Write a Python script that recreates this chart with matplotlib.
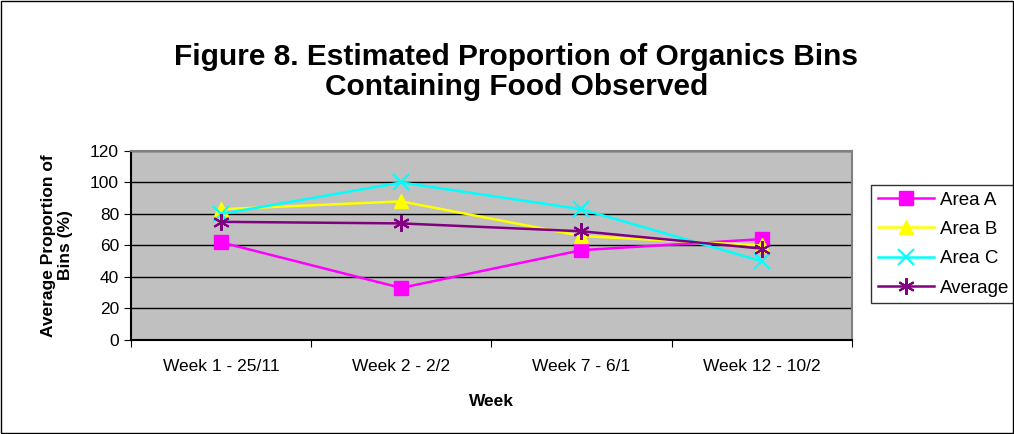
import matplotlib
matplotlib.use('Agg')
import matplotlib.pyplot as plt
from matplotlib.patches import Rectangle

weeks = ['Week 1 - 25/11', 'Week 2 - 2/2', 'Week 7 - 6/1', 'Week 12 - 10/2']
area_a = [62, 33, 57, 64]
area_b = [83, 88, 66, 60]
area_c = [80, 100, 83, 50]
average = [75, 74, 69, 58]

plt.rcParams['font.family'] = ['Liberation Sans', 'DejaVu Sans']

fig = plt.figure(figsize=(10.14, 4.34), dpi=100)
fig.patches.append(Rectangle((0.001, 0.002), 0.998, 0.996, transform=fig.transFigure,
                             fill=False, edgecolor='black', linewidth=1))
ax = fig.add_axes([0.129, 0.217, 0.711, 0.435])
ax.set_facecolor('#C0C0C0')

x = [0.5, 1.5, 2.5, 3.5]
ax.plot(x, area_a, color='#FF00FF', marker='s', markersize=10, linewidth=1.8, label='Area A')
ax.plot(x, area_b, color='#FFFF00', marker='^', markersize=10, linewidth=1.8, label='Area B')
ax.plot(x, area_c, color='#00FFFF', marker='x', markersize=11, markeredgewidth=1.5, linewidth=1.8, label='Area C')
ax.plot(x, average, color='#800080', marker=(6, 2, 0), markersize=12, markeredgewidth=1.5, linewidth=1.8, label='Average')

ax.set_xlim(0, 4)
ax.set_ylim(0, 120)
ax.set_yticks(range(0, 121, 20))
ax.set_xticks([0, 1, 2, 3, 4])
ax.set_xticklabels([])
ax.set_xticks(x, minor=True)
ax.set_xticklabels(weeks, minor=True)
ax.tick_params(axis='x', which='minor', length=0, pad=14, labelsize=12.5)
ax.tick_params(axis='x', which='major', length=5, direction='out')
ax.tick_params(axis='y', labelsize=12.5, length=5, direction='out')
ax.grid(axis='y', color='black', linewidth=1)
ax.set_axisbelow(True)
for s in ax.spines.values():
    s.set_color('#808080')
    s.set_linewidth(1.5)
ax.spines['bottom'].set_color('black')
ax.spines['left'].set_color('black')

ax.set_xlabel('Week', fontsize=12.5, fontweight='bold', labelpad=14)
ax.set_ylabel('Average Proportion of\nBins (%)', fontsize=12.5, fontweight='bold', labelpad=12)

fig.text(0.509, 0.835, 'Figure 8. Estimated Proportion of Organics Bins\nContaining Food Observed',
         ha='center', va='center', fontsize=21.5, fontweight='bold', linespacing=1.1)

leg = ax.legend(loc='upper left', bbox_to_anchor=(1.027, 0.82), fontsize=13.5, frameon=True,
                fancybox=False, edgecolor='black', handlelength=3, borderpad=0.35,
                labelspacing=0.65, handletextpad=0.3, borderaxespad=0)
leg.get_frame().set_linewidth(1)

fig.savefig('out.png', dpi=100)
